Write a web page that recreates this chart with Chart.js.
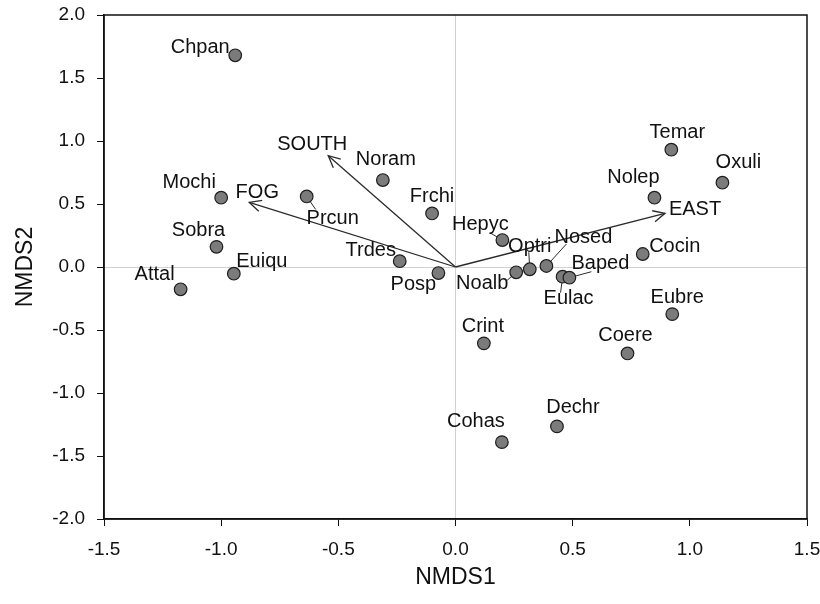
<!DOCTYPE html>
<html>
<head>
<meta charset="utf-8">
<script src="https://cdn.jsdelivr.net/npm/chart.js@4.4.1/dist/chart.umd.min.js"></script>
<style>
  html, body { margin: 0; padding: 0; background: #fff; }
  #wrap { width: 820px; height: 604px; }
</style>
</head>
<body>
<div id="wrap"><canvas id="nmds" width="820" height="604"></canvas></div>
<script>
// species scores
const species = ['Chpan', 'Mochi', 'Prcun', 'Noram', 'Frchi', 'Sobra', 'Euiqu', 'Attal', 'Trdes', 'Posp',
  'Hepyc', 'Noalb', 'Optri', 'Nosed', 'Eulac', 'Baped', 'Cocin', 'Nolep', 'Temar', 'Oxuli',
  'Eubre', 'Coere', 'Crint', 'Dechr', 'Cohas'];
const nmds1 = [-0.94, -1.00, -0.635, -0.31, -0.10, -1.02, -0.946, -1.173, -0.238, -0.073,
  0.20, 0.259, 0.317, 0.388, 0.457, 0.486, 0.799, 0.849, 0.921, 1.139,
  0.925, 0.734, 0.121, 0.433, 0.198];
const nmds2 = [1.68, 0.55, 0.56, 0.69, 0.425, 0.16, -0.053, -0.177, 0.046, -0.048,
  0.214, -0.042, -0.018, 0.008, -0.077, -0.085, 0.103, 0.55, 0.931, 0.669,
  -0.374, -0.686, -0.606, -1.265, -1.39];

// environmental vectors
const vectors = ['SOUTH', 'FOG', 'EAST'];
const vecX = [-0.543, -0.880, 0.894];
const vecY = [0.883, 0.513, 0.426];

const xTicks = [-1.5, -1.0, -0.5, 0.0, 0.5, 1.0, 1.5];
const yTicks = [-2.0, -1.5, -1.0, -0.5, 0.0, 0.5, 1.0, 1.5, 2.0];

// label placement: offset of label centre from its point, in px
const labelOffset = {
  Chpan: [-35, -8], Mochi: [-32, -15], Prcun: [26, 22], Noram: [3, -21], Frchi: [0, -17],
  Sobra: [-18, -16], Euiqu: [28, -12], Attal: [-26, -15], Trdes: [-29, -11], Posp: [-25, 11],
  Hepyc: [-22, -16], Noalb: [-34, 11], Optri: [0, -23], Nosed: [37, -29], Eulac: [6, 22],
  Baped: [31, -14], Cocin: [32, -8], Nolep: [-21, -20], Temar: [6, -17], Oxuli: [16, -20],
  Eubre: [5, -17], Coere: [-2, -18], Crint: [-1, -17], Dechr: [16, -19], Cohas: [-26, -21],
  SOUTH: [-16, -11], FOG: [8, -10], EAST: [30, -4]
};
// short leader lines from crowded points toward their labels
const leaders = {
  Prcun: [9, 13], Hepyc: [-12, -7], Optri: [-1, -17], Nosed: [20, -22],
  Noalb: [-9, 8], Baped: [22, -6], Eulac: [-2, 16]
};

const FONT = "'Liberation Sans', Arial, sans-serif";
const INK = '#111';

const points = species.map((s, i) => ({ x: nmds1[i], y: nmds2[i] }));
const vectorSets = vectors.map((v, i) => ({
  type: 'line',
  label: v,
  data: [{ x: 0, y: 0 }, { x: vecX[i], y: vecY[i] }],
  borderColor: '#2a2a2a',
  borderWidth: 1.3,
  pointRadius: 0,
  showLine: true,
  order: 2
}));

const annotate = {
  id: 'annotate',
  beforeDatasetsDraw(chart) {
    const { ctx, scales: { x, y } } = chart;
    ctx.save();
    ctx.strokeStyle = '#2a2a2a';
    ctx.lineWidth = 1;
    species.forEach((s, i) => {
      const l = leaders[s];
      if (!l) return;
      const px = x.getPixelForValue(nmds1[i]);
      const py = y.getPixelForValue(nmds2[i]);
      ctx.beginPath();
      ctx.moveTo(px, py);
      ctx.lineTo(px + l[0], py + l[1]);
      ctx.stroke();
    });
    ctx.restore();
  },
  afterDatasetsDraw(chart) {
    const { ctx, scales: { x, y } } = chart;
    ctx.save();
    // open arrow heads
    ctx.strokeStyle = '#2a2a2a';
    ctx.lineWidth = 1.3;
    vectors.forEach((v, i) => {
      const x0 = x.getPixelForValue(0), y0 = y.getPixelForValue(0);
      const x1 = x.getPixelForValue(vecX[i]), y1 = y.getPixelForValue(vecY[i]);
      const a = Math.atan2(y1 - y0, x1 - x0);
      const len = 13, spread = 0.45;
      ctx.beginPath();
      ctx.moveTo(x1 - len * Math.cos(a - spread), y1 - len * Math.sin(a - spread));
      ctx.lineTo(x1, y1);
      ctx.lineTo(x1 - len * Math.cos(a + spread), y1 - len * Math.sin(a + spread));
      ctx.stroke();
    });
    // text labels
    ctx.fillStyle = INK;
    ctx.font = '20px ' + FONT;
    ctx.textAlign = 'center';
    ctx.textBaseline = 'middle';
    species.forEach((s, i) => {
      const o = labelOffset[s];
      ctx.fillText(s, x.getPixelForValue(nmds1[i]) + o[0], y.getPixelForValue(nmds2[i]) + o[1]);
    });
    vectors.forEach((v, i) => {
      const o = labelOffset[v];
      ctx.fillText(v, x.getPixelForValue(vecX[i]) + o[0], y.getPixelForValue(vecY[i]) + o[1]);
    });
    ctx.restore();
  },
  afterDraw(chart) {
    const { ctx, chartArea: a } = chart;
    ctx.save();
    ctx.strokeStyle = '#111';
    ctx.lineWidth = 1.5;
    ctx.strokeRect(a.left, a.top, a.right - a.left, a.bottom - a.top);
    ctx.restore();
  }
};

const zeroGrid = (c) => (c.tick && c.tick.value === 0 ? '#d2d2d2' : 'rgba(0,0,0,0)');

new Chart(document.getElementById('nmds'), {
  type: 'scatter',
  data: {
    datasets: [{
      label: 'species',
      data: points,
      backgroundColor: '#7b7b7b',
      borderColor: '#1e1e1e',
      borderWidth: 1.2,
      pointRadius: 6.3,
      pointHoverRadius: 6.3,
      order: 1
    }, ...vectorSets]
  },
  options: {
    responsive: false,
    animation: false,
    layout: { padding: { top: 15, right: 13, left: 0, bottom: 0 } },
    plugins: { legend: { display: false }, tooltip: { enabled: false } },
    scales: {
      x: {
        type: 'linear',
        min: -1.5, max: 1.5,
        afterBuildTicks(s) { s.ticks = xTicks.map(v => ({ value: v })); },
        afterFit(s) { s.height = 85; s.paddingLeft = 0; s.paddingRight = 0; },
        ticks: {
          color: INK, padding: 12,
          font: { family: FONT, size: 19 },
          callback: v => Number(v).toFixed(1)
        },
        grid: { color: zeroGrid, lineWidth: 1, tickColor: '#111', tickLength: 7 },
        border: { color: '#111', width: 1.5 },
        title: {
          display: true, text: 'NMDS1', color: INK,
          font: { family: FONT, size: 23 }, padding: { top: 0, bottom: 13 }
        }
      },
      y: {
        type: 'linear',
        min: -2, max: 2,
        afterBuildTicks(s) { s.ticks = yTicks.map(v => ({ value: v })); },
        afterFit(s) { s.width = 104; s.paddingTop = 0; s.paddingBottom = 0; },
        ticks: {
          color: INK, padding: 12,
          font: { family: FONT, size: 19 },
          callback: v => Number(v).toFixed(1)
        },
        grid: { color: zeroGrid, lineWidth: 1, tickColor: '#111', tickLength: 7 },
        border: { color: '#111', width: 1.5 },
        title: {
          display: true, text: 'NMDS2', color: INK,
          font: { family: FONT, size: 23 }, padding: { top: 12, bottom: 0 }
        }
      }
    }
  },
  plugins: [annotate]
});
</script>
</body>
</html>
